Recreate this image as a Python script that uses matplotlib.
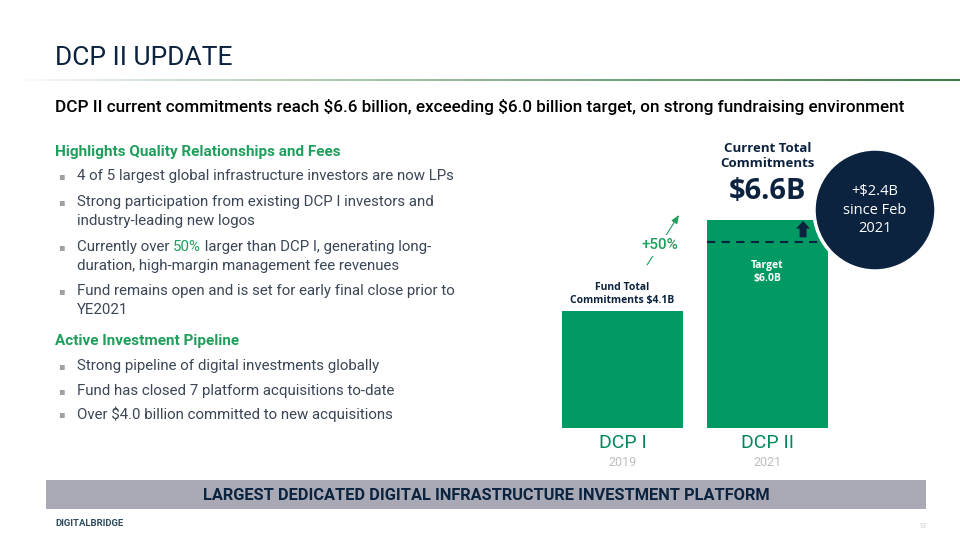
import matplotlib
matplotlib.use("Agg")
import matplotlib.pyplot as plt
import numpy as np
from matplotlib.patches import Circle, Rectangle

# ---- data ----
funds = ["DCP I", "DCP II"]
vintages = ["2019", "2021"]
commitments = [4.1, 6.6]
target = 6.0
growth_label = "+50%"
bar_labels = ["Fund Total\nCommitments \\$4.1B", "Target\n\\$6.0B"]

title = "DCP II UPDATE"
subtitle = ("DCP II current commitments reach \\$6.6 billion, exceeding \\$6.0 billion target, "
            "on strong fundraising environment")
section1 = "Highlights Quality Relationships and Fees"
bullets1 = [
    ["4 of 5 largest global infrastructure investors are now LPs"],
    ["Strong participation from existing DCP I investors and", "industry-leading new logos"],
    ["Currently over |50%| larger than DCP I, generating long-",
     "duration, high-margin management fee revenues"],
    ["Fund remains open and is set for early final close prior to", "YE2021"],
]
section2 = "Active Investment Pipeline"
bullets2 = [
    ["Strong pipeline of digital investments globally"],
    ["Fund has closed 7 platform acquisitions to-date"],
    ["Over \\$4.0 billion committed to new acquisitions"],
]
banner = "LARGEST DEDICATED DIGITAL INFRASTRUCTURE INVESTMENT PLATFORM"
circle_text = "+\\$2.4B\nsince Feb\n2021"

NAVY = "#0C2340"
GREEN = "#009A62"
HEAD_GREEN = "#1F9E5C"
TEXT = "#3B4656"
GREY = "#A8A9B4"

plt.rcParams["font.family"] = ["Roboto", "DejaVu Sans"]
WIDE = ["Open Sans", "DejaVu Sans"]

fig = plt.figure(figsize=(9.6, 5.4), dpi=100)

# bar axes (pixel box: x 545-845, y 130-428)
ax = fig.add_axes([545 / 960, 1 - 428 / 540, 300 / 960, 298 / 540], zorder=1)
x = np.arange(len(funds))
ax.bar(x, commitments, width=0.834, color=GREEN)
ax.set_xlim(-0.534, 1.534)
ax.set_ylim(0.88, 9.07)
for s in ax.spines.values():
    s.set_visible(False)
ax.set_yticks([])
ax.set_xticks(x, funds, color="#00875A", fontsize=14)
ax.tick_params(axis="x", length=0, pad=4)
for xi, yr in zip(x, vintages):
    ax.text(xi, -0.115, yr, transform=ax.get_xaxis_transform(), ha="center", va="center",
            color="#BDBDBD", fontsize=9)

# target dashed line on DCP II
ax.hlines(target, 1 - 0.417, 1 + 0.417, colors=NAVY, linestyles=(0, (4, 3)), linewidth=1.5)
ax.text(0, 4.56, bar_labels[0], ha="center", va="center", color=NAVY, fontsize=7.5,
        fontweight="bold", linespacing=1.3, family=WIDE)
ax.text(1, 5.16, bar_labels[1], ha="center", va="center", color="white", fontsize=7.5,
        fontweight="bold", linespacing=1.3, family=WIDE)
ax.annotate("", xy=(1.245, commitments[1] - 0.03), xytext=(1.245, target + 0.12),
            arrowprops=dict(arrowstyle="simple,head_width=1.0,head_length=0.55,tail_width=0.5",
                            color=NAVY, lw=0, shrinkA=0, shrinkB=0))
ax.text(1, 8.35, "Current Total\nCommitments", ha="center", va="center", color=NAVY,
        fontsize=9.5, fontweight="bold", linespacing=1.25, family=WIDE)
ax.text(1, 7.38, "\\$%.1fB" % commitments[1], ha="center", va="center", color=NAVY,
        fontsize=21, fontweight="bold", family=WIDE)

# growth arrow between bars
ax.annotate("", xy=(0.4, 6.8), xytext=(0.16, 5.3),
            arrowprops=dict(arrowstyle="-|>,head_width=0.2,head_length=0.5", color=HEAD_GREEN, lw=0.8))
ax.text(0.26, 5.9, growth_label, ha="center", va="center", color=HEAD_GREEN, fontsize=11,
        fontweight="medium",
        bbox=dict(boxstyle="square,pad=0.25", fc="white", ec="none"))

# page overlay in pixel coordinates
pg = fig.add_axes([0, 0, 1, 1], zorder=2)
pg.patch.set_visible(False)
pg.axis("off")

grad = np.zeros((1, 256, 4))
g = matplotlib.colors.to_rgb("#3A7D44")
grad[0, :, :3] = g
grad[0, :, 3] = np.linspace(0, 1, 256) ** 0.8
pg.imshow(grad, extent=[15, 960, 81.5, 79.5], aspect="auto", interpolation="bilinear")
pg.set_xlim(0, 960)
pg.set_ylim(540, 0)

pg.text(55, 58, title, color=NAVY, fontsize=19, va="center")
pg.text(55, 107, subtitle, color="black", fontsize=12.3, va="center", fontweight="medium")

# left text
def bullet_block(y_head, head, items, ys):
    pg.text(55, y_head, head, color=HEAD_GREEN, fontsize=11, fontweight="bold", va="center")
    k = 0
    for lines in items:
        pg.text(58, ys[k], "\u25aa", color="#A0A0A0", fontsize=7, va="center")
        for line in lines:
            parts = line.split("|")
            t = pg.text(77, ys[k], parts[0], color=TEXT, fontsize=10.8, va="center")
            for j, p in enumerate(parts[1:]):
                col = HEAD_GREEN if j % 2 == 0 else TEXT
                t = pg.annotate(p, xy=(1, 0), xycoords=t, va="bottom", ha="left",
                                color=col, fontsize=10.8)
            k += 1

bullet_block(152, section1, bullets1, [176, 202, 221, 247, 266, 291, 310])
bullet_block(341, section2, bullets2, [366, 391, 414])

# circle
pg.add_patch(Circle((875, 210), 61, fc=NAVY, ec="white", lw=2.5))
pg.text(875, 210, circle_text, color="white", fontsize=10.5, ha="center", va="center",
        linespacing=1.3, family=WIDE)

# banner
pg.add_patch(Rectangle((46, 480), 880, 29, fc=GREY, ec="none"))
pg.text(486, 495, banner, color=NAVY, fontsize=11.8, fontweight="bold", ha="center", va="center")

pg.text(55, 523, "DIGITALBRIDGE", color="#2E4A5E", fontsize=6.8, fontweight="bold", va="center")
pg.text(918, 526, "13", color="#C8C8C8", fontsize=5, va="center")

fig.savefig("out.png", dpi=100)
